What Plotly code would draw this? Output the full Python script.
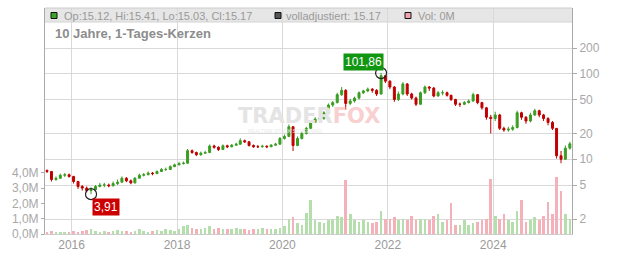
import pandas as pd
import numpy as np
import plotly.graph_objects as go

# ---- data (monthly candles) ----
months = pd.date_range("2015-07-01", periods=120, freq="MS") + pd.Timedelta(days=14)

close = [7.2, 5.8, 6.0, 6.5, 6.6, 6.3,
         5.5, 4.8, 4.6, 4.3, 4.4, 4.8, 5.0, 5.0, 4.9, 5.2, 5.4, 6.0,
         5.6, 5.3, 6.0, 6.5, 6.6, 6.9, 6.8, 7.2, 7.6, 7.6, 8.2, 8.6,
         8.9, 9.0, 12.6, 12.0, 11.3, 11.8, 12.0, 14.3, 13.8, 13.0, 14.4, 14.0,
         14.6, 15.0, 16.5, 16.0, 14.5, 14.0, 14.0, 14.2, 14.0, 14.6, 15.0, 17.5,
         18.5, 24.0, 14.5, 17.5, 20.0, 23.0, 27.0, 29.5, 30.0, 35.0, 43.0, 46.0,
         57, 64, 45, 48, 52, 60, 63, 66, 64, 58, 95, 82,
         70, 50, 58, 76, 58, 52, 44, 60, 70, 68, 55, 60,
         60, 56, 50, 44, 44, 46, 48, 57, 46, 40, 31, 30,
         33, 23, 22, 22.5, 23.5, 35, 31, 28, 33, 37, 33, 30,
         27, 23, 11, 10, 13.5, 15.17]

high = [7.6, 7.3, 6.3, 6.8, 6.9, 6.8,
        6.4, 5.6, 5.0, 4.8, 4.7, 5.0, 5.3, 5.3, 5.2, 5.5, 5.8, 6.3,
        6.2, 5.8, 6.2, 6.8, 6.9, 7.2, 7.1, 7.4, 7.9, 8.0, 8.5, 8.9,
        9.3, 9.4, 13.2, 13.0, 12.3, 12.3, 12.6, 14.9, 14.8, 14.2, 14.9, 14.8,
        15.1, 15.6, 17.6, 17.0, 16.2, 14.9, 14.7, 14.8, 14.6, 15.1, 15.6, 18.2,
        19.5, 25.5, 24.5, 18.5, 21.0, 24.0, 28.5, 31.0, 32.0, 36.5, 45.0, 48.0,
        60, 70, 66, 51, 54, 62, 65, 69, 68, 66, 101.86, 97,
        84, 72, 62, 80, 78, 60, 54, 62, 73, 72, 70, 63,
        64, 62, 57, 51, 46, 48, 50, 60, 58, 47, 41, 33,
        36, 34, 24, 24, 25, 37, 36, 32, 35, 39, 38, 34,
        31, 28, 23, 12.5, 14.5, 16]

low = [6.9, 5.5, 5.6, 5.9, 6.2, 6.1,
       5.2, 4.5, 4.3, 4.1, 3.91, 4.3, 4.7, 4.7, 4.7, 4.8, 5.0, 5.3,
       5.4, 5.1, 5.2, 6.0, 6.3, 6.5, 6.5, 6.7, 7.1, 7.3, 7.5, 8.1,
       8.5, 8.7, 8.9, 11.6, 10.9, 11.0, 11.5, 11.8, 13.3, 12.5, 12.8, 13.5,
       13.8, 14.4, 14.8, 15.5, 14.1, 13.6, 13.6, 13.7, 13.5, 13.9, 14.5, 15.0,
       17.0, 18.2, 12.5, 14.2, 17.0, 19.5, 22.5, 26.5, 28.0, 29.0, 34.5, 41.0,
       45, 55, 38, 43, 46, 50, 58, 61, 60, 55, 57, 78,
       66, 47, 48, 56, 55, 50, 42, 43, 58, 63, 53, 54,
       56, 54, 48, 42, 41, 43, 45, 47, 44, 38, 29, 20,
       28, 22, 21, 21, 21.5, 23, 29, 26, 27, 32, 31, 28,
       25, 22, 10.2, 9.0, 10, 13]

first_open = 7.4
open_ = [first_open] + close[:-1]

volume_m = [0.15, 0.2, 0.1, 0.15, 0.1, 0.15,
            0.2, 0.15, 0.2, 0.25, 0.3, 0.2, 0.15, 0.2, 0.15, 0.2, 0.25, 0.2,
            0.2, 0.15, 0.2, 0.3, 0.2, 0.15, 0.2, 0.25, 0.2, 0.3, 0.25, 0.2,
            0.3, 0.5, 0.6, 0.4, 0.3, 0.3, 0.4, 0.5, 0.3, 0.4, 0.3, 0.3,
            0.3, 0.4, 0.3, 0.3, 0.25, 0.3, 0.3, 0.4, 0.3, 0.3, 0.35, 0.4,
            0.5, 1.0, 1.1, 0.7, 0.6, 1.4, 2.2, 0.9, 0.8, 0.7, 0.9, 1.0,
            1.2, 1.1, 3.5, 1.3, 0.9, 0.8, 0.9, 0.8, 0.7, 0.8, 1.5, 1.0,
            1.0, 1.1, 0.9, 1.0, 0.9, 1.2, 0.9, 1.0, 1.0, 0.9, 1.2, 1.3,
            0.8, 0.9, 2.0, 0.6, 0.6, 0.9, 0.6, 0.7, 0.8, 0.9, 1.0, 3.6,
            1.2, 1.0, 1.3, 0.9, 0.8, 1.5, 2.2, 0.8, 0.9, 1.1, 0.9, 1.2,
            2.1, 1.3, 3.7, 2.8, 1.3, 1.0]

price_ticks = [2, 5, 10, 20, 50, 100, 200]
vol_ticks = [0, 1, 2, 3, 4]
vol_labels = ["0,0M", "1,0M", "2,0M", "3,0M", "4,0M"]
year_ticks = ["2016-01-01", "2018-01-01", "2020-01-01", "2022-01-01", "2024-01-01"]
year_labels = ["2016", "2018", "2020", "2022", "2024"]
header_texts = ["Op:15.12, Hi:15.41, Lo:15.03, Cl:15.17", "volladjustiert: 15.17", "Vol: 0M"]
title_text = "10 Jahre, 1-Tages-Kerzen"

# ---- figure ----
W, H = 632, 253
L, R, T, B = 45, 60, 8, 19
PW, PH = W - L - R, H - T - B

def px(x):
    return (x - L) / PW

def py(y):
    return (H - B - y) / PH

GREEN = "#3a9d23"
RED = "#c00000"
vol_colors = ["#b4deac" if c >= o else "#f4b1b9" for o, c in zip(open_, close)]

fig = go.Figure()
fig.add_trace(go.Bar(x=months, y=volume_m, marker_color=vol_colors, marker_line_width=0,
                     width=18 * 24 * 3600 * 1000, yaxis="y", showlegend=False))
fig.add_trace(go.Candlestick(x=months, open=open_, high=high, low=low, close=close,
                             increasing=dict(line=dict(color=GREEN, width=1), fillcolor=GREEN),
                             decreasing=dict(line=dict(color=RED, width=1), fillcolor=RED),
                             whiskerwidth=0, yaxis="y2", showlegend=False))

imax = int(np.argmax(high))
imin = int(np.argmin(low))
fig.add_trace(go.Scatter(x=[months[imax], months[imin]], y=[high[imax], low[imin]], mode="markers",
                         marker=dict(symbol="circle-open", size=11, color="#222", line=dict(width=1.2)),
                         yaxis="y2", showlegend=False))

lo_log = 0.126
hi_log = lo_log + PH / 85.5
fig.update_layout(
    width=W, height=H, margin=dict(l=L, r=R, t=T, b=B, autoexpand=False),
    paper_bgcolor="white", plot_bgcolor="white",
    font=dict(family="Liberation Sans, Arial, sans-serif", color="#9a9a9a", size=12),
    bargap=0,
    xaxis=dict(type="date", range=["2015-07-01", "2025-06-30"], tickvals=year_ticks, ticktext=year_labels,
               showgrid=True, gridcolor="#d9d9d9", gridwidth=1, rangeslider=dict(visible=False),
               showline=True, linecolor="#cccccc", ticks="", automargin=False,
               tickfont=dict(size=12, color="#9a9a9a")),
    yaxis=dict(side="left", range=[0, PH / 15.3], tickvals=vol_ticks, ticktext=vol_labels,
               showgrid=False, zeroline=False, showline=True, linecolor="#aaaaaa", ticks="outside",
               ticklen=3, tickcolor="#aaaaaa", automargin=False, tickfont=dict(size=12, color="#a8a8a8")),
    yaxis2=dict(side="right", overlaying="y", type="log", range=[lo_log, hi_log], tickvals=price_ticks,
                ticktext=[str(t) for t in price_ticks], showgrid=True, gridcolor="#d9d9d9",
                showline=True, linecolor="#aaaaaa", ticks="outside", ticklen=4, tickcolor="#aaaaaa",
                automargin=False, tickfont=dict(size=12, color="#a8a8a8")),
)

shapes = [
    dict(type="rect", xref="paper", yref="paper", x0=0, x1=1, y0=py(22), y1=1,
         fillcolor="#e6e6e6", line=dict(width=0), layer="below"),
    dict(type="line", xref="paper", yref="paper", x0=0, x1=1, y0=py(22), y1=py(22),
         line=dict(color="#d4d4d4", width=1), layer="below"),
    dict(type="line", xref="paper", yref="paper", x0=0, x1=1, y0=1, y1=1,
         line=dict(color="#cccccc", width=1)),
]
sq = [(51, "#3aa625"), (275, "#555555"), (405, "#f0a3ad")]
for x0, col in sq:
    shapes.append(dict(type="rect", xref="paper", yref="paper", x0=px(x0), x1=px(x0 + 6),
                       y0=py(18.5), y1=py(12.5), fillcolor=col, line=dict(color="#111", width=1)))
fig.update_layout(shapes=shapes)

ann = []
for x0, t in zip([62, 284, 416], header_texts):
    ann.append(dict(xref="paper", yref="paper", x=px(x0), y=py(15.5), text=t, showarrow=False,
                    xanchor="left", yanchor="middle", font=dict(size=11, color="#999999")))
ann.append(dict(xref="paper", yref="paper", x=px(53), y=py(34), text="<b>" + title_text + "</b>",
                showarrow=False, xanchor="left", yanchor="middle", font=dict(size=13, color="#8c8c8c")))
# watermark
ann.append(dict(xref="paper", yref="paper", x=px(309), y=py(116),
                text="<b><span style='color:#e4e4e4'>TRADER</span><span style='color:#f8d0d0'>FOX</span></b>",
                showarrow=False, xanchor="center", yanchor="middle", font=dict(size=21, family="DejaVu Sans")))
ann.append(dict(xref="paper", yref="paper", x=px(285), y=py(131), text="REALTIME STOCK SCREENING",
                showarrow=False, xanchor="center", yanchor="middle", font=dict(size=5, color="#eaeaea")))
# high / low labels
ann.append(dict(xref="x", yref="y2", x=months[imax], y=np.log10(high[imax]),
                text=f"{high[imax]:.2f}".replace(".", ","), showarrow=False, xshift=-18, yshift=11,
                bgcolor="#119611", borderpad=1, font=dict(size=12, color="white")))
ann.append(dict(xref="x", yref="y2", x=months[imin], y=np.log10(low[imin]),
                text=f"{low[imin]:.2f}".replace(".", ","), showarrow=False, xshift=15, yshift=-13,
                bgcolor="#cc0000", borderpad=1, font=dict(size=12, color="white")))
fig.update_layout(annotations=ann)

fig.write_html("out.html")
